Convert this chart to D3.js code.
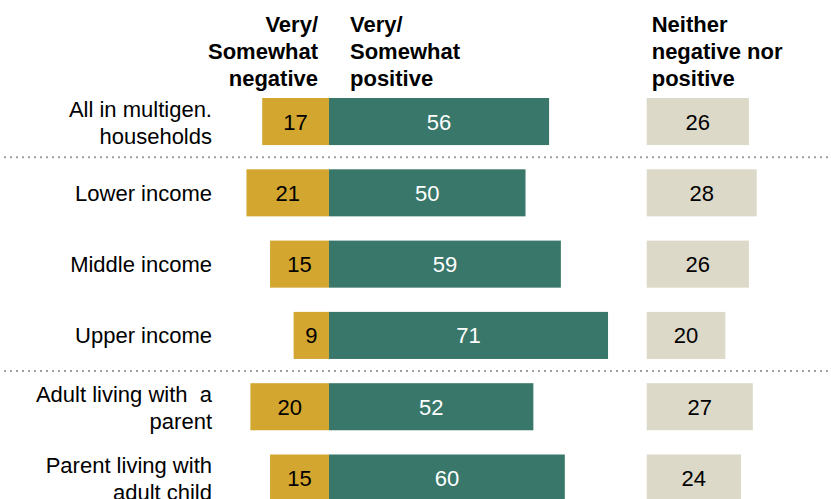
<!DOCTYPE html>
<html>
<head>
<meta charset="utf-8">
<script src="https://cdn.jsdelivr.net/npm/d3@7"></script>
<style>
  html, body { margin: 0; padding: 0; background: #fff; }
  svg { display: block; font-family: "Liberation Sans", Arial, sans-serif; }
</style>
</head>
<body>
<svg id="chart" width="831" height="499"></svg>
<script>
// ---- Data ----
const categories = [
  "All in multigen. households",
  "Lower income",
  "Middle income",
  "Upper income",
  "Adult living with a parent",
  "Parent living with adult child"
];
const categoryLines = [
  ["All in multigen.", "households"],
  ["Lower income"],
  ["Middle income"],
  ["Upper income"],
  ["Adult living with  a", "parent"],
  ["Parent living with", "adult child"]
];
const negativeValues = [17, 21, 15, 9, 20, 15];
const positiveValues = [56, 50, 59, 71, 52, 60];
const neitherValues  = [26, 28, 26, 20, 27, 24];
const negativeHeader = ["Very/", "Somewhat", "negative"];
const positiveHeader = ["Very/", "Somewhat", "positive"];
const neitherHeader  = ["Neither", "negative nor", "positive"];
const dividerAfter = [0, 3];

// ---- Styles ----
const colNeg = "#D2A62F", colPos = "#39776A", colNeither = "#DCD9C8";
const fontSize = 22;

const svg = d3.select("#chart");
const W = 831;

const pxPerUnit = 3.93;
const zeroX = 329;
const x = d3.scaleLinear().domain([-25, 75]).range([zeroX - 25 * pxPerUnit, zeroX + 75 * pxPerUnit]);
const neitherZero = 646.7;
const xN = d3.scaleLinear().domain([0, 30]).range([neitherZero, neitherZero + 30 * pxPerUnit]);

const step = 71.3, padIn = 0.34, padOut = 0.17;
const yStart = 98 - padOut * step;
const y = d3.scaleBand().domain(categories)
  .range([yStart, yStart + categories.length * step])
  .paddingInner(padIn).paddingOuter(padOut);
const bw = y.bandwidth();

// headers
function header(lines, xPos, anchor) {
  const t = svg.append("text")
    .attr("text-anchor", anchor)
    .attr("font-weight", "bold")
    .attr("font-size", fontSize)
    .attr("fill", "#000");
  lines.forEach((l, i) => {
    t.append("tspan").attr("x", xPos).attr("y", 32 + i * 27).text(l);
  });
}
header(negativeHeader, x(0) - 11, "end");
header(positiveHeader, x(0) + 21, "start");
header(neitherHeader, xN(0) + 5, "start");

// dividers
dividerAfter.forEach(i => {
  const yy = y(categories[i]) + bw + (step - bw) / 2;
  svg.append("line")
    .attr("x1", 4).attr("x2", W)
    .attr("y1", yy).attr("y2", yy)
    .attr("stroke", "#A0A0A0")
    .attr("stroke-width", 2)
    .attr("stroke-dasharray", "2,4");
});

const rows = svg.selectAll("g.row").data(categories).join("g").attr("class", "row");

// negative bars
rows.append("rect")
  .attr("x", (d, i) => x(-negativeValues[i]))
  .attr("y", d => y(d))
  .attr("width", (d, i) => x(0) - x(-negativeValues[i]))
  .attr("height", bw)
  .attr("fill", colNeg);
rows.append("text")
  .attr("x", (d, i) => (x(0) + x(-negativeValues[i])) / 2)
  .attr("y", d => y(d) + bw / 2 + 8)
  .attr("text-anchor", "middle")
  .attr("font-size", fontSize)
  .attr("fill", "#000")
  .text((d, i) => negativeValues[i]);

// positive bars
rows.append("rect")
  .attr("x", x(0))
  .attr("y", d => y(d))
  .attr("width", (d, i) => x(positiveValues[i]) - x(0))
  .attr("height", bw)
  .attr("fill", colPos);
rows.append("text")
  .attr("x", (d, i) => (x(0) + x(positiveValues[i])) / 2)
  .attr("y", d => y(d) + bw / 2 + 8)
  .attr("text-anchor", "middle")
  .attr("font-size", fontSize)
  .attr("fill", "#fff")
  .text((d, i) => positiveValues[i]);

// neither bars
rows.append("rect")
  .attr("x", xN(0))
  .attr("y", d => y(d))
  .attr("width", (d, i) => xN(neitherValues[i]) - xN(0))
  .attr("height", bw)
  .attr("fill", colNeither);
rows.append("text")
  .attr("x", (d, i) => (xN(0) + xN(neitherValues[i])) / 2)
  .attr("y", d => y(d) + bw / 2 + 8)
  .attr("text-anchor", "middle")
  .attr("font-size", fontSize)
  .attr("fill", "#000")
  .text((d, i) => neitherValues[i]);

// category labels
rows.append("text")
  .attr("text-anchor", "end")
  .attr("font-size", fontSize)
  .attr("fill", "#000")
  .each(function(d, i) {
    const lines = categoryLines[i];
    const c = y(d) + bw / 2;
    const t = d3.select(this);
    if (lines.length === 1) {
      t.append("tspan").attr("x", 212).attr("y", c + 8).text(lines[0]);
    } else {
      lines.forEach((l, j) => {
        t.append("tspan").attr("x", 212).attr("y", c - 5 + j * 27).attr("xml:space", "preserve").text(l);
      });
    }
  });
</script>
</body>
</html>
